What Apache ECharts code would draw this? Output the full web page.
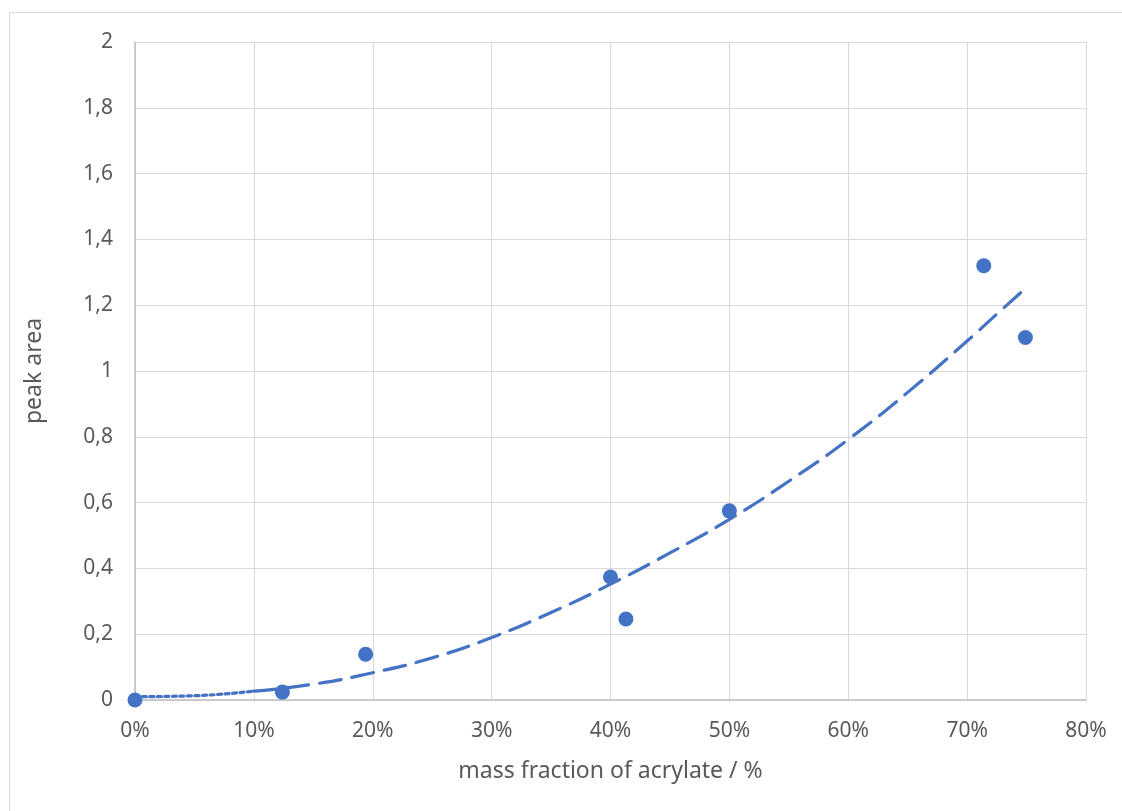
<!DOCTYPE html>
<html>
<head>
<meta charset="utf-8">
<script src="https://cdn.jsdelivr.net/npm/echarts@6/dist/echarts.min.js"></script>
<style>
html,body{margin:0;padding:0;background:#fff;}
#chart{width:1122px;height:811px;}
</style>
</head>
<body>
<div id="chart"></div>
<script>
// measured points (mass fraction, peak area)
var xValues = [0, 0.124, 0.194, 0.400, 0.413, 0.500, 0.714, 0.749];
var yValues = [0.000, 0.024, 0.139, 0.374, 0.246, 0.575, 1.320, 1.102];
// trend line
var trendX = [0, 0.05, 0.10, 0.15, 0.20, 0.25, 0.30, 0.35, 0.40, 0.45, 0.50, 0.55, 0.60, 0.65, 0.70, 0.725, 0.75];
var trendY = [0.010, 0.013, 0.027, 0.048, 0.083, 0.128, 0.190, 0.266, 0.352, 0.447, 0.549, 0.665, 0.792, 0.935, 1.091, 1.173, 1.254];
var xTicks = [0, 0.1, 0.2, 0.3, 0.4, 0.5, 0.6, 0.7, 0.8];
var yTicks = [0, 0.2, 0.4, 0.6, 0.8, 1, 1.2, 1.4, 1.6, 1.8, 2];

var pts = xValues.map(function(x, i){ return [x, yValues[i]]; });
var trend = trendX.map(function(x, i){ return [x, trendY[i]]; });
var trendDotted = trend.filter(function(p){ return p[0] <= 0.10; });
var trendDashed = trend.filter(function(p){ return p[0] >= 0.10; });

var FONT = 'Noto Sans';
var chart = echarts.init(document.getElementById('chart'));
chart.setOption({
  animation: false,
  backgroundColor: '#fff',
  graphic: [{
    type: 'rect', silent: true,
    shape: {x: 9.5, y: 12.5, width: 1200, height: 900},
    style: {fill: 'none', stroke: '#d9d9d9', lineWidth: 1}
  }],
  grid: {left: 135, right: 36, top: 42, bottom: 111},
  xAxis: {
    type: 'value', min: 0, max: 0.8, interval: 0.1,
    name: 'mass fraction of acrylate / %',
    nameLocation: 'middle', nameGap: 60,
    nameTextStyle: {fontFamily: FONT, fontSize: 23, color: '#595959'},
    axisLine: {show: true, lineStyle: {color: '#bfbfbf', width: 1.5}},
    axisTick: {show: false},
    splitLine: {show: true, lineStyle: {color: '#d9d9d9', width: 1}},
    axisLabel: {
      fontFamily: FONT, fontSize: 21, color: '#595959', margin: 21,
      formatter: function(v){
        var i = xTicks.findIndex(function(t){ return Math.abs(t - v) < 1e-6; });
        return i >= 0 ? Math.round(xTicks[i] * 100) + '%' : '';
      }
    }
  },
  yAxis: {
    type: 'value', min: 0, max: 2, interval: 0.2,
    name: 'peak area',
    nameLocation: 'middle', nameGap: 89, nameRotate: 90,
    nameTextStyle: {fontFamily: FONT, fontSize: 23, color: '#595959'},
    axisLine: {show: true, lineStyle: {color: '#bfbfbf', width: 1.5}},
    axisTick: {show: false},
    splitLine: {show: true, lineStyle: {color: '#d9d9d9', width: 1}},
    axisLabel: {
      fontFamily: FONT, fontSize: 21, color: '#595959', margin: 22,
      formatter: function(v){
        var i = yTicks.findIndex(function(t){ return Math.abs(t - v) < 1e-6; });
        return i >= 0 ? String(yTicks[i]).replace('.', ',') : '';
      }
    }
  },
  series: [
    {
      type: 'line', data: trendDotted, smooth: true, showSymbol: false, silent: true,
      lineStyle: {color: '#4472C4', width: 3.2, type: [4, 3.5], cap: 'round'}, z: 2
    },
    {
      type: 'line', data: trendDashed, smooth: true, showSymbol: false, silent: true,
      lineStyle: {color: '#4472C4', width: 3.2, type: [22, 11], cap: 'round'}, z: 2
    },
    {
      type: 'scatter', data: pts, symbol: 'circle', symbolSize: 15,
      itemStyle: {color: '#4472C4', opacity: 1}, z: 3
    }
  ]
});
</script>
</body>
</html>
